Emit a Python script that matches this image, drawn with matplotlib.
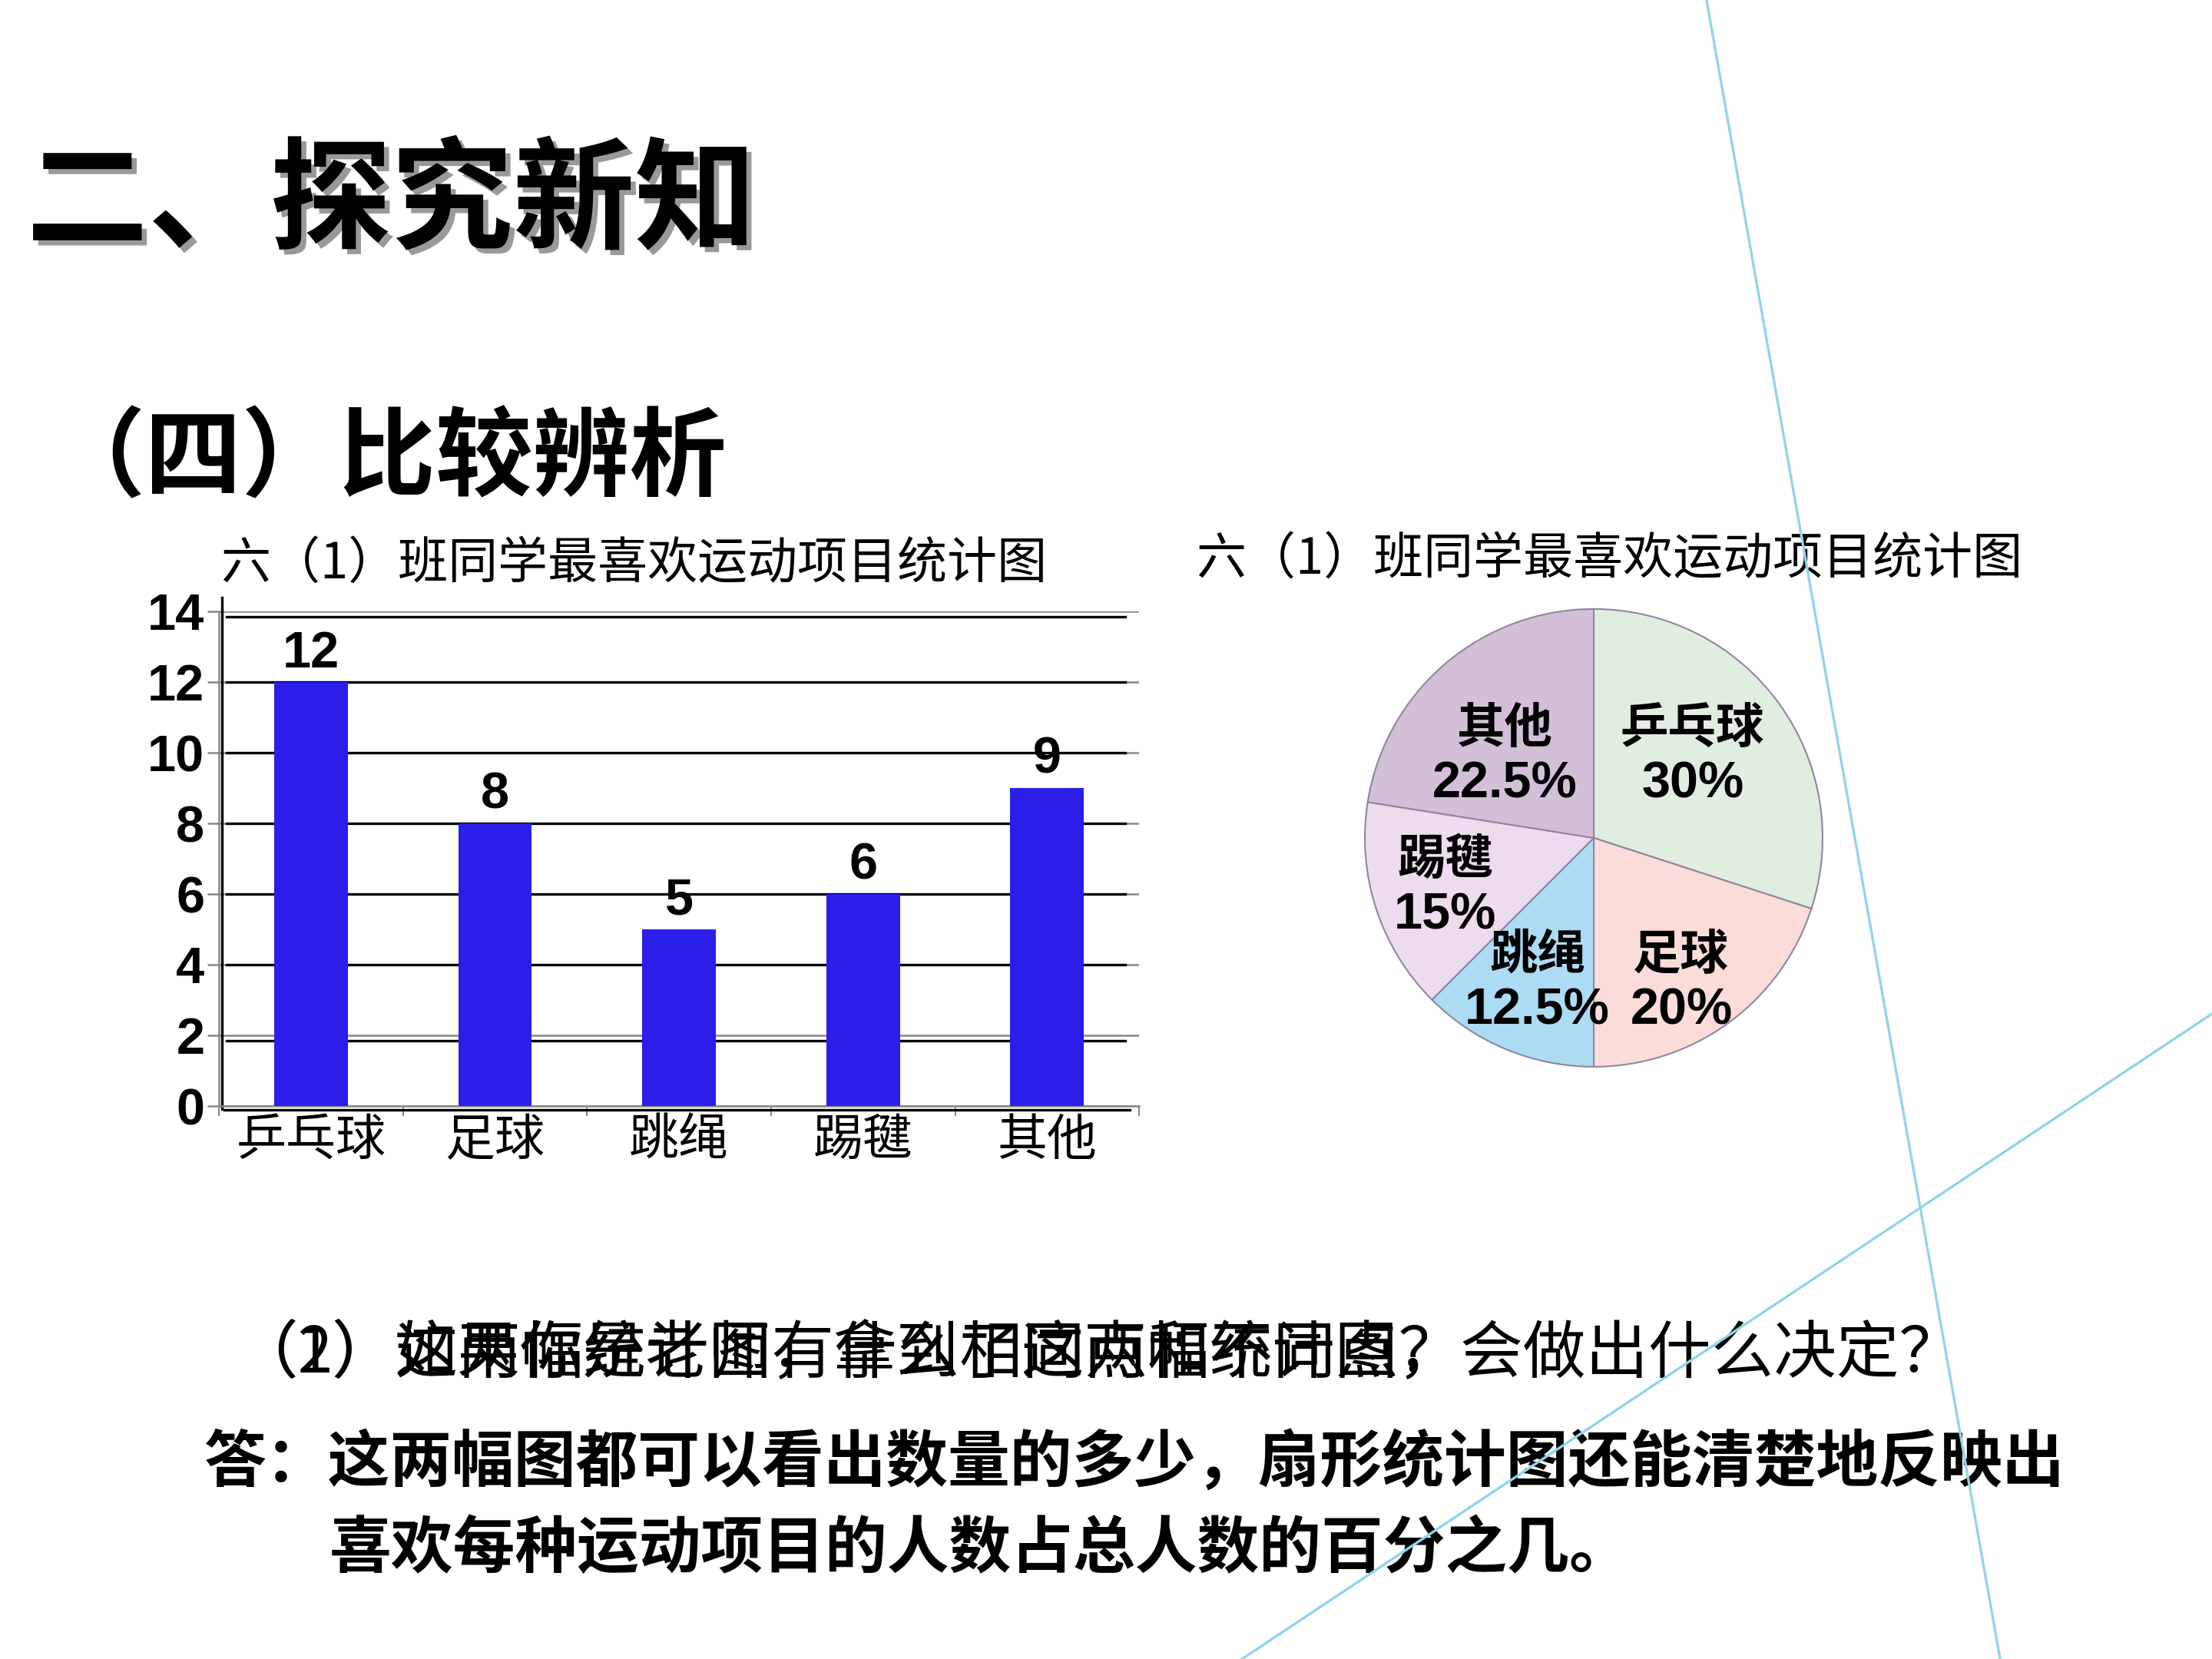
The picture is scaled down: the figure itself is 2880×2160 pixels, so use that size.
import matplotlib
matplotlib.use('Agg')
import matplotlib.pyplot as plt
import matplotlib.patheffects as pe
from matplotlib.lines import Line2D
import numpy as np

plt.rcParams['font.family'] = ['Noto Sans CJK SC', 'DejaVu Sans']

# data
sports = ['乒乓球', '足球', '跳绳', '踢毽', '其他']
counts = [12, 8, 5, 6, 9]
yticks = [0, 2, 4, 6, 8, 10, 12, 14]
pie_order = ['乒乓球', '足球', '跳绳', '踢毽', '其他']
pie_share = [30, 20, 12.5, 15, 22.5]
chart_title = '六（1）班同学最喜欢运动项目统计图'
question_a = '（1）如果你是老师，拿到了这两幅统计图，会做出什么决定？'
question_b = '（2）这两幅统计图有什么相同点和不同点？'
answer_1 = '答：这两幅图都可以看出数量的多少，扇形统计图还能清楚地反映出'
answer_2 = '喜欢每种运动项目的人数占总人数的百分之几。'

# the black rules that sit over the grey gridlines in the picture
overlay_rows = [13.85, 12, 10, 8, 6, 4, 1.85]

bar_color = '#2a1ee8'
pie_colors = ['#e0eee0', '#fbdcd9', '#acdbf4', '#ecdcee', '#d3c0d8']
# where each pie label sits: fraction of radius and angle tweak (deg) from the wedge middle
label_r = [0.557, 0.742, 0.682, 0.685, 0.524]
label_dth = [3.2, -5.0, 1.3, 0.9, 7.4]
deco_blue = '#92d4ea'

fig = plt.figure(figsize=(9.6, 7.2), dpi=300)

# decorative slide lines
fig.add_artist(Line2D([0.7715, 0.9042], [1.0, 0.0], color=deco_blue, lw=0.8, zorder=5))
fig.add_artist(Line2D([1.0, 0.5615], [0.3889, 0.0], color=deco_blue, lw=0.8, zorder=5))

# headings
fig.text(0.012, 0.877, '二、探究新知', fontsize=38, fontweight='heavy', va='center', ha='left',
         path_effects=[pe.SimplePatchShadow(offset=(1.6, -1.6), shadow_rgbFace='0.5', alpha=0.8),
                       pe.Normal()])
fig.text(0.0217, 0.7225, '（四）比较辨析', fontsize=30.3, fontweight='bold', va='center', ha='left')

# bar chart
ax = fig.add_axes([0.099, 0.3333, 0.416, 0.298])
x = np.arange(len(sports))
ax.bar(x, counts, width=0.4, color=bar_color, zorder=3)
for xi, c in zip(x, counts):
    ax.text(xi, c + 0.12, str(c), ha='center', va='bottom', fontsize=16, fontweight='bold',
            family=['Liberation Sans', 'DejaVu Sans'])
ax.set_xlim(-0.5, len(sports) - 0.5)
ax.set_ylim(0, 14)
ax.set_yticks(yticks)
ax.set_yticklabels([str(t) for t in yticks], fontsize=16, fontweight='bold',
                   family=['Liberation Sans', 'DejaVu Sans'])
ax.set_xticks(x)
ax.set_xticklabels(sports, fontsize=15.6)
ax.set_xticks(np.arange(len(sports) + 1) - 0.5, minor=True)
ax.tick_params(axis='x', which='major', length=0, pad=3)
ax.tick_params(axis='x', which='minor', length=3, color='#888888', width=0.5)
ax.tick_params(axis='y', length=3.5, color='#888888', width=0.6, pad=1)
ax.yaxis.grid(True, color='#888888', lw=0.6, zorder=1)
ax.set_axisbelow(True)
for s in ['top', 'right']:
    ax.spines[s].set_visible(False)
for s in ['left', 'bottom']:
    ax.spines[s].set_color('#888888')
    ax.spines[s].set_linewidth(0.6)
for yv in overlay_rows:
    ax.axhline(yv, xmin=0.008, xmax=0.985, color='black', lw=0.8, zorder=2)
ax.plot([-0.485, -0.485], [-0.08, 14.4], color='black', lw=0.8, clip_on=False, zorder=2)
ax.plot([-0.47, 4.45], [-0.1, -0.1], color='black', lw=0.8, clip_on=False, zorder=2)

fig.text(0.2865, 0.660, chart_title, fontsize=15.6, ha='center', va='center')

# pie chart
ax2 = fig.add_axes([0.616, 0.3556, 0.209, 0.2787])
wedges, _ = ax2.pie(pie_share, colors=pie_colors, startangle=90, counterclock=False,
                    wedgeprops=dict(edgecolor='#8f86a0', linewidth=0.5))
for w, name, share, r, dth in zip(wedges, pie_order, pie_share, label_r, label_dth):
    th = np.deg2rad((w.theta1 + w.theta2) / 2 + dth)
    cx, cy = r * np.cos(th), r * np.sin(th)
    ax2.text(cx, cy + 0.125, name, ha='center', va='center', fontsize=15, fontweight='bold')
    ax2.text(cx, cy - 0.12, f'{share:g}%', ha='center', va='center', fontsize=16,
             fontweight='bold', family=['Liberation Sans', 'DejaVu Sans'])
ax2.set_xlim(-1.01, 1.01)
ax2.set_ylim(-1.01, 1.01)
ax2.set_aspect('equal')
ax2.axis('off')

fig.text(0.7275, 0.6625, chart_title, fontsize=15.6, ha='center', va='center')

# questions and answer
fig.text(0.106, 0.1836, question_a, fontsize=19.6, ha='left', va='center')
fig.text(0.1065, 0.1833, question_b, fontsize=19.6, ha='left', va='center')
fig.text(0.092, 0.118, answer_1, fontsize=19.4, fontweight='bold', ha='left', va='center')
fig.text(0.149, 0.066, answer_2, fontsize=19.4, fontweight='bold', ha='left', va='center')

fig.savefig('out.png', dpi=300)
